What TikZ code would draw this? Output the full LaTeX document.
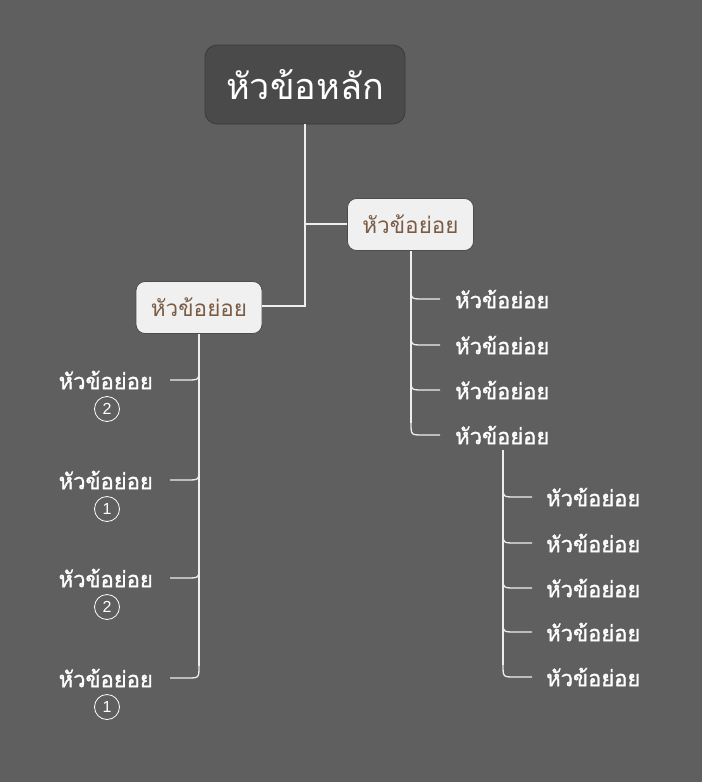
\documentclass[tikz,border=0pt]{standalone}
\usepackage{fontspec}
\newfontfamily\thai[Script=Thai]{Loma}
\newfontfamily\thaib[Script=Thai,FakeBold=1.2]{Loma}
\setmainfont{DejaVu Sans}
\setsansfont{Liberation Sans}
\definecolor{bg}{HTML}{5F5F5F}
\definecolor{rootfill}{HTML}{4A4A4A}
\definecolor{subfill}{HTML}{F0F0F0}
\definecolor{subtext}{HTML}{7A5C45}
\definecolor{wire}{HTML}{EEEEEE}
\tikzset{
  rootbox/.style={draw=rootfill!80!black, fill=rootfill, rounded corners=12pt, minimum width=200pt, minimum height=79pt, text=white, font=\thai\fontsize{36}{40}\selectfont, line width=0.8pt},
  subbox/.style={draw=black!70, fill=subfill, rounded corners=9pt, minimum width=126pt, minimum height=52pt, text=subtext, font=\thai\fontsize{22.5}{26}\selectfont, line width=0.8pt},
  leaf/.style={text=white, font=\thaib\fontsize{22}{26}\selectfont, inner sep=0pt},
  num/.style={circle, draw=white, line width=0.8pt, minimum size=25pt, inner sep=0pt, text=white, font=\sffamily\fontsize{16}{18}\selectfont},
  wireline/.style={draw=wire, line width=1.3pt},
}
\begin{document}
\begin{tikzpicture}[x=1pt,y=-1pt]
\useasboundingbox (0,0) rectangle (702,782);
\fill[bg] (0,0) rectangle (702,782);
\node[rootbox] (root) at (305,84.5) {หัวข้อหลัก};
\node[subbox] (R) at (410.5,224.5) {หัวข้อย่อย};
\node[subbox] (L) at (199,307.5) {หัวข้อย่อย};
% main spine
\coordinate (rs) at (305,306);
\coordinate (rj) at (305,224);
\draw[wireline] (root.south) -- (rs) -- (L.east |- rs);
\draw[wireline] (rj) -- (R.west |- rj);
% right branch leaves
\foreach \i/\y in {1/299,2/345,3/390,4/435}{
  \node[leaf, anchor=west] (r\i) at (455,\y) {หัวข้อย่อย};
}
\coordinate (Rb) at (411,251);
\draw[wireline] (R.south -| Rb) -- (411,423);
\foreach \i/\y in {1/299,2/345,3/390,4/435}{
  \draw[wireline] (411,\y-12) .. controls (411,\y) .. (423,\y) -- ([xshift=-15pt]r\i.west);
}
% second level under r4
\foreach \i/\y in {1/497,2/543,3/588,4/632,5/677}{
  \node[leaf, anchor=west] (s\i) at (546,\y) {หัวข้อย่อย};
}
\coordinate (s0) at (503,450);
\draw[wireline] (s0) -- (503,665);
\foreach \i/\y in {1/497,2/543,3/588,4/632,5/677}{
  \draw[wireline] (503,\y-12) .. controls (503,\y) .. (515,\y) -- ([xshift=-14pt]s\i.west);
}
% left branch leaves
\foreach \i/\y/\n in {1/380/2,2/480/1,3/578/2,4/678/1}{
  \node[leaf, anchor=east] (l\i) at (153,\y) {หัวข้อย่อย};
  \node[num] (n\i) at (107,\y+29) {\n};
}
\draw[wireline] (L.south) -- (199,666);
\foreach \i/\y in {1/380,2/480,3/578,4/678}{
  \draw[wireline] (199,\y-12) .. controls (199,\y) .. (187,\y) -- ([xshift=17pt]l\i.east);
}
\end{tikzpicture}
\end{document}
